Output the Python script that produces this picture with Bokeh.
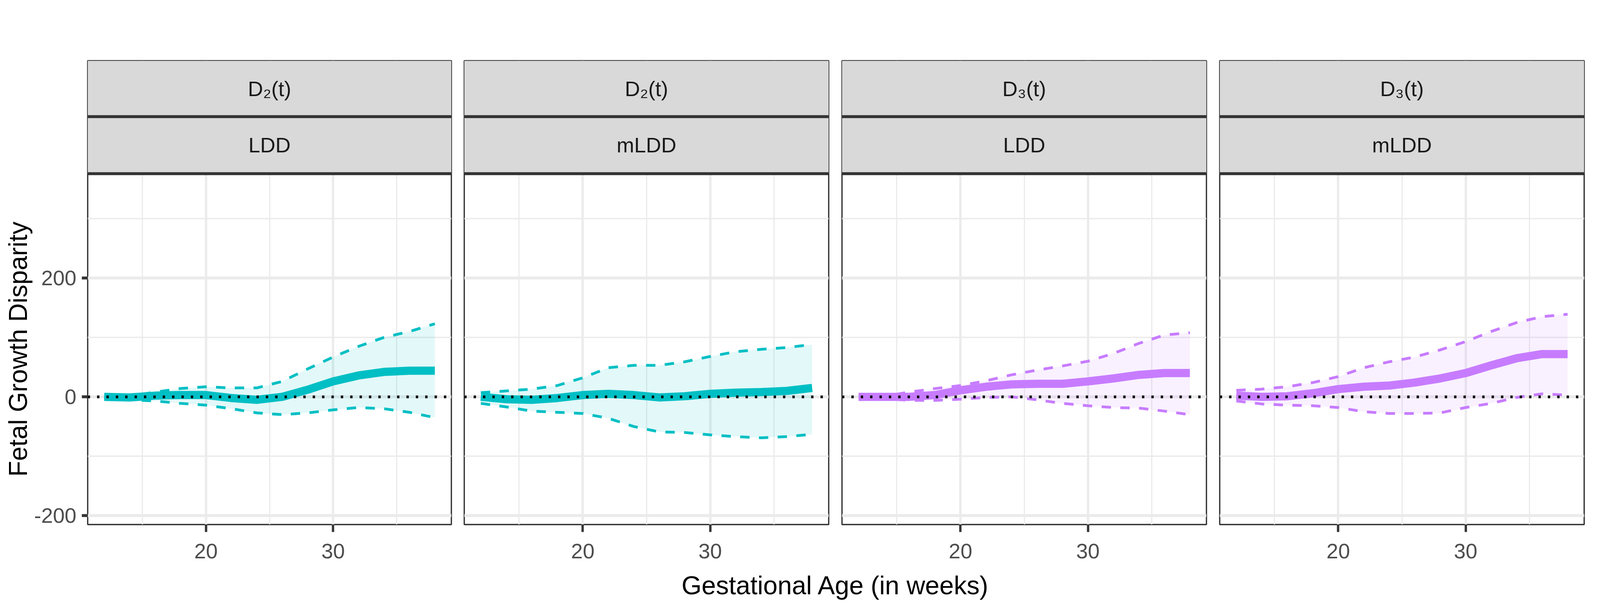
import math
from bokeh.plotting import figure
from bokeh.layouts import row, column
from bokeh.models import Range1d, FixedTicker, Span, CustomJSTickFormatter
from bokeh.core.properties import value
from bokeh.embed import file_html
from bokeh.resources import INLINE

# ---------------- data ----------------
weeks = [12, 14, 16, 18, 20, 22, 24, 26, 28, 30, 32, 34, 36, 38]

d2_ldd_mean  = [0, -1, 2, 3, 3, -2, -5, 0, 12, 26, 36, 42, 44, 44]
d2_ldd_upper = [0, 1, 8, 14, 17, 15, 15, 26, 47, 67, 85, 100, 110, 123]
d2_ldd_lower = [-2, -5, -7, -11, -14, -20, -27, -30, -27, -22, -18, -20, -26, -35]

d2_mldd_mean  = [0, -4, -5, -2, 3, 5, 3, -1, 1, 5, 7, 8, 10, 15]
d2_mldd_upper = [7, 10, 13, 19, 32, 49, 53, 53, 59, 68, 76, 80, 83, 88]
d2_mldd_lower = [-11, -17, -24, -26, -28, -36, -50, -59, -60, -64, -67, -69, -67, -63]

d3_ldd_mean  = [0, 0, 0, 3, 11, 17, 21, 22, 22, 26, 31, 37, 40, 40]
d3_ldd_upper = [0, 1, 8, 14, 19, 27, 37, 45, 52, 60, 73, 90, 104, 108]
d3_ldd_lower = [-2, -3, -6, -6, -4, -1, 0, -5, -11, -15, -18, -19, -24, -30]

d3_mldd_mean  = [2, 0, 1, 6, 13, 17, 19, 24, 31, 40, 53, 65, 72, 72]
d3_mldd_upper = [11, 13, 17, 24, 34, 49, 59, 67, 79, 93, 110, 125, 135, 139]
d3_mldd_lower = [-7, -12, -14, -15, -18, -25, -28, -28, -27, -18, -11, -1, 5, 3]

strip_top_labels = ["D\u2082(t)", "D\u2082(t)", "D\u2083(t)", "D\u2083(t)"]
strip_bottom_labels = ["LDD", "mLDD", "LDD", "mLDD"]
x_ticks = [20, 30]
x_minor = [15, 25, 35]
y_ticks = [-200, 0, 200]
y_minor = [-100, 100, 300]

TEAL = "#00BFC4"
PURPLE = "#C77CFF"
panel_colors = [TEAL, TEAL, PURPLE, PURPLE]
panel_series = [
    (d2_ldd_lower, d2_ldd_mean, d2_ldd_upper),
    (d2_mldd_lower, d2_mldd_mean, d2_mldd_upper),
    (d3_ldd_lower, d3_ldd_mean, d3_ldd_upper),
    (d3_mldd_lower, d3_mldd_mean, d3_mldd_upper),
]

# ---------------- layout constants (CSS px) ----------------
X_LO, X_HI = 10.7, 39.3
Y_BOTTOM, Y_PANEL_TOP, Y_STRIP_MID, Y_TOP = -215.0, 375.7, 471.8, 565.8
H = 1452
TOP_B, BOT_B = 155, 110
FRAME_W = 933
lefts = [138, 16, 17, 17]
rights = [17, 17, 17, 17]
FONT = "Liberation Sans"
GRID = "#EBEBEB"
DARK = "#333333"
TICK_FS = "54px"
TITLE_FS = "66px"

y_range = Range1d(Y_BOTTOM, Y_TOP)
fmt = CustomJSTickFormatter(code="return tick.toString();")


def make_panel(i):
    p = figure(width=lefts[i] + FRAME_W + rights[i], height=H,
               x_range=Range1d(X_LO, X_HI), y_range=y_range,
               output_backend="svg", toolbar_location=None,
               min_border_left=lefts[i], min_border_right=rights[i],
               min_border_top=TOP_B, min_border_bottom=BOT_B)
    p.background_fill_color = "white"
    p.border_fill_color = "white"
    p.outline_line_color = DARK
    p.outline_line_width = 3.3

    # x axis
    xt = FixedTicker(ticks=x_ticks, minor_ticks=x_minor)
    p.xaxis.ticker = xt
    p.xgrid.ticker = xt
    p.xaxis.formatter = fmt
    p.xaxis.axis_line_color = None
    p.xaxis.major_tick_in = 0
    p.xaxis.major_tick_out = 19
    p.xaxis.major_tick_line_width = 6
    p.xaxis.major_tick_line_color = DARK
    p.xaxis.minor_tick_line_color = None
    p.xaxis.major_label_text_font = FONT
    p.xaxis.major_label_text_font_size = TICK_FS
    p.xaxis.major_label_text_color = "#4D4D4D"
    p.xaxis.major_label_standoff = 30

    # y axis
    yt = FixedTicker(ticks=y_ticks, minor_ticks=y_minor)
    p.yaxis.ticker = yt
    p.ygrid.ticker = yt
    p.yaxis.formatter = fmt
    p.yaxis.axis_line_color = None
    p.yaxis.major_tick_in = 0
    p.yaxis.major_tick_out = 15
    p.yaxis.major_tick_line_width = 7.4
    p.yaxis.major_tick_line_color = DARK
    p.yaxis.minor_tick_line_color = None
    p.yaxis.major_label_text_font = FONT
    p.yaxis.major_label_text_font_size = TICK_FS
    p.yaxis.major_label_text_color = "#4D4D4D"
    p.yaxis.major_label_standoff = 14
    if i > 0:
        p.yaxis.visible = False

    p.xgrid.grid_line_color = GRID
    p.xgrid.grid_line_width = 6
    p.xgrid.minor_grid_line_color = GRID
    p.xgrid.minor_grid_line_width = 3
    p.ygrid.grid_line_color = GRID
    p.ygrid.grid_line_width = 7.4
    p.ygrid.minor_grid_line_color = GRID
    p.ygrid.minor_grid_line_width = 3.7

    lower, mean, upper = panel_series[i]
    c = panel_colors[i]
    p.varea(x=weeks, y1=lower, y2=upper, fill_color=c, fill_alpha=0.11)
    p.line(weeks, mean, line_color=c, line_width=21, line_join="round")
    p.line(weeks, upper, line_color=c, line_width=7, line_dash="24 24", line_join="round")
    p.line(weeks, lower, line_color=c, line_width=7, line_dash="24 24", line_join="round")

    p.add_layout(Span(location=0, dimension="width", line_color="black",
                      line_width=7, line_dash="6 18"))

    # facet strips
    p.hstrip(y0=[Y_STRIP_MID, Y_PANEL_TOP], y1=[Y_TOP, Y_STRIP_MID],
             fill_color="#D9D9D9", line_color=None)
    p.hspan(y=[Y_STRIP_MID, Y_PANEL_TOP], line_color=DARK, line_width=7.4)
    xm = (X_LO + X_HI) / 2
    p.text(x=[xm, xm],
           y=[(Y_STRIP_MID + Y_TOP) / 2, (Y_PANEL_TOP + Y_STRIP_MID) / 2],
           text=[strip_top_labels[i], strip_bottom_labels[i]],
           text_align="center", text_baseline="middle",
           text_font=value(FONT), text_font_size=TICK_FS, text_color="#1A1A1A")
    return p


panels = [make_panel(i) for i in range(4)]

# y-axis title
yt_fig = figure(width=84, height=H, x_range=Range1d(0, 1), y_range=y_range,
                output_backend="svg", toolbar_location=None,
                min_border_left=0, min_border_right=0,
                min_border_top=TOP_B, min_border_bottom=BOT_B)
yt_fig.axis.visible = False
yt_fig.grid.visible = False
yt_fig.outline_line_color = None
yt_fig.text(x=[0.543], y=[(Y_BOTTOM + Y_PANEL_TOP) / 2], text=["Fetal Growth Disparity"],
            angle=math.pi / 2, text_align="center", text_baseline="alphabetic",
            text_font=value(FONT), text_font_size=TITLE_FS, text_color="black")

# x-axis title
xt_fig = figure(width=4072, height=106, x_range=Range1d(0, 1), y_range=Range1d(0, 1),
                output_backend="svg", toolbar_location=None,
                min_border_left=222, min_border_right=17,
                min_border_top=0, min_border_bottom=0)
xt_fig.axis.visible = False
xt_fig.grid.visible = False
xt_fig.outline_line_color = None
xt_fig.text(x=[0.5], y=[0.575], text=["Gestational Age (in weeks)"],
            text_align="center", text_baseline="alphabetic",
            text_font=value(FONT), text_font_size=TITLE_FS, text_color="black")

layout = column(row(yt_fig, *panels), xt_fig)

open("out.html", "w").write(file_html(layout, INLINE))
